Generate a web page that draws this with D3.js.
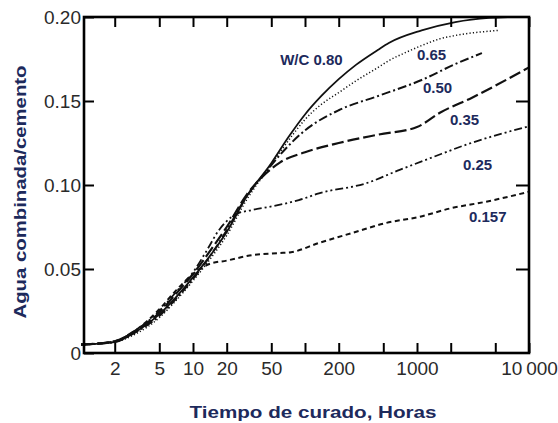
<!DOCTYPE html>
<html>
<head>
<meta charset="utf-8">
<script src="https://cdn.jsdelivr.net/npm/d3@7"></script>
<style>
  body { margin: 0; background: #fff; }
  svg { display: block; font-family: 'Liberation Sans', Arial, sans-serif; }
</style>
</head>
<body>
<div id="chart-area"></div>
<script>
// curing time (hours) and combined water / cement for each W/C ratio
let hours080 = [1, 2, 3, 5, 7, 10, 15, 20, 30, 50, 72, 100, 140, 200, 285, 450, 560, 1100, 2200, 4400, 6500];
let water080 = [0.005, 0.0065, 0.012, 0.023, 0.033, 0.045, 0.06, 0.072, 0.093, 0.113, 0.129, 0.142, 0.153, 0.163, 0.1715, 0.1805, 0.1845, 0.192, 0.197, 0.1995, 0.2];

let hours065 = [1, 2, 3, 5, 7, 10, 15, 20, 30, 50, 80, 100, 140, 200, 285, 450, 560, 800, 1100, 1600, 2200, 5300];
let water065 = [0.005, 0.0065, 0.011, 0.021, 0.031, 0.043, 0.058, 0.07, 0.091, 0.112, 0.131, 0.139, 0.148, 0.155, 0.162, 0.17, 0.174, 0.179, 0.183, 0.187, 0.189, 0.192];

let hours050 = [1, 2, 3, 5, 7, 10, 15, 20, 30, 45, 60, 100, 200, 450, 1100, 2200, 3800];
let water050 = [0.005, 0.0065, 0.012, 0.022, 0.032, 0.044, 0.06, 0.073, 0.093, 0.108, 0.118, 0.1325, 0.1445, 0.153, 0.1625, 0.172, 0.1785];

let hours035 = [1, 2, 3, 5, 7, 10, 15, 20, 30, 45, 60, 100, 200, 450, 1000, 1600, 3100, 10000];
let water035 = [0.005, 0.007, 0.013, 0.024, 0.035, 0.047, 0.063, 0.075, 0.094, 0.107, 0.1135, 0.1195, 0.125, 0.13, 0.1345, 0.143, 0.152, 0.17];

let hours025 = [1, 2, 3, 5, 7, 10, 13, 17, 24, 33, 48, 88, 133, 350, 700, 1400, 2750, 10000];
let water025 = [0.005, 0.007, 0.013, 0.025, 0.036, 0.048, 0.06, 0.073, 0.0825, 0.085, 0.087, 0.091, 0.095, 0.101, 0.109, 0.1167, 0.124, 0.135];

let hours0157 = [1, 2, 3, 5, 7, 10, 14, 20, 32, 58, 75, 133, 262, 530, 1040, 2050, 4100, 10000];
let water0157 = [0.005, 0.007, 0.013, 0.026, 0.037, 0.047, 0.053, 0.055, 0.058, 0.0595, 0.06, 0.0655, 0.0714, 0.0774, 0.081, 0.0863, 0.09, 0.096];

let seriesLabels = ['W/C 0.80', '0.65', '0.50', '0.35', '0.25', '0.157'];

// axis ticks
let xTicks = [2, 5, 10, 20, 50, 100, 200, 500, 1000, 2000, 5000, 10000];
let xTickLabels = { 2: '2', 5: '5', 10: '10', 20: '20', 50: '50', 200: '200', 1000: '1000', 10000: '10\u2009000' };
let yTicks = [0, 0.05, 0.1, 0.15, 0.2];

let width = 558;
let height = 423;
let frame = { left: 84, right: 529, top: 17, bottom: 353 };

let series = [
  { hours: hours080, water: water080, dash: null, sw: 1.8 },
  { hours: hours065, water: water065, dash: '1.2,2.2', sw: 1.5 },
  { hours: hours050, water: water050, dash: '9,3,2,3', sw: 2 },
  { hours: hours035, water: water035, dash: '12,4', sw: 2.2 },
  { hours: hours025, water: water025, dash: '8,3,2,3,2,3', sw: 1.8 },
  { hours: hours0157, water: water0157, dash: '5,3.5', sw: 2 },
];
//label anchors in data units (hours, water)
let labelAt = [[60, 0.1714], [1000, 0.1744], [1130, 0.1548], [1970, 0.1357], [2575, 0.1089], [2910, 0.078]];

let xScale = d3.scaleLog().domain([1, 10000]).range([81, frame.right]);
let yScale = d3.scaleLinear().domain([0, 0.2]).range([frame.bottom, frame.top]);

let chart = d3
  .select('#chart-area')
  .append('svg')
  .attr('width', width)
  .attr('height', height);

//curves
let line = d3
  .line()
  .x((d) => xScale(d[0]))
  .y((d) => yScale(d[1]))
  .curve(d3.curveMonotoneX);

chart
  .append('g')
  .attr('id', 'curves')
  .selectAll('path')
  .data(series)
  .enter()
  .append('path')
  .attr('d', (s) => line(s.hours.map((h, i) => [h, s.water[i]])))
  .attr('fill', 'none')
  .attr('stroke', '#111')
  .attr('stroke-width', (s) => s.sw)
  .attr('stroke-dasharray', (s) => s.dash);

//frame
chart
  .append('rect')
  .attr('x', frame.left)
  .attr('y', frame.top)
  .attr('width', frame.right - frame.left)
  .attr('height', frame.bottom - frame.top)
  .attr('fill', 'none')
  .attr('stroke', '#000')
  .attr('stroke-width', 2.6);

//x axis (bottom) with inward ticks
let xAxis = d3
  .axisBottom(xScale)
  .tickValues(xTicks)
  .tickSize(-10)
  .tickPadding(9)
  .tickFormat((d) => xTickLabels[d] || '');
chart
  .append('g')
  .attr('id', 'x-axis')
  .attr('transform', `translate(0, ${frame.bottom})`)
  .call(xAxis);

//top ticks
chart
  .append('g')
  .attr('transform', `translate(0, ${frame.top})`)
  .call(d3.axisTop(xScale).tickValues(xTicks).tickSize(-10).tickFormat(''));

//y axis
let yAxis = d3
  .axisLeft(yScale)
  .tickValues(yTicks)
  .tickSize(-10)
  .tickPadding(3)
  .tickFormat((d) => (d === 0 ? '0' : d.toFixed(2)));
chart
  .append('g')
  .attr('id', 'y-axis')
  .attr('transform', `translate(${frame.left}, 0)`)
  .call(yAxis);

//right ticks
chart
  .append('g')
  .attr('transform', `translate(${frame.right}, 0)`)
  .call(d3.axisRight(yScale).tickValues(yTicks.slice(1, 4)).tickSize(-13).tickFormat(''));

chart.selectAll('.domain').remove();
chart.selectAll('.tick line').attr('stroke', '#000').attr('stroke-width', 2);
chart
  .selectAll('.tick text')
  .attr('fill', '#2a2a2a')
  .style('font-size', '19px')
  .style('font-family', "'Liberation Sans', Arial, sans-serif");

//curve labels
chart
  .append('g')
  .attr('id', 'labels')
  .selectAll('text')
  .data(seriesLabels)
  .enter()
  .append('text')
  .attr('x', (d, i) => xScale(labelAt[i][0]))
  .attr('y', (d, i) => yScale(labelAt[i][1]))
  .text((d) => d)
  .attr('fill', '#1d2a5c')
  .style('font-size', '15px')
  .style('font-weight', 'bold');

//axis titles
chart
  .append('text')
  .attr('transform', `translate(26, ${(frame.top + frame.bottom) / 2 + 7}) rotate(-90)`)
  .attr('text-anchor', 'middle')
  .attr('textLength', 253)
  .attr('lengthAdjust', 'spacingAndGlyphs')
  .attr('fill', '#1d2a5c')
  .style('font-size', '16px')
  .style('font-weight', 'bold')
  .text('Agua combinada/cemento');

chart
  .append('text')
  .attr('x', 313)
  .attr('y', 418)
  .attr('text-anchor', 'middle')
  .attr('textLength', 247)
  .attr('lengthAdjust', 'spacingAndGlyphs')
  .attr('fill', '#1d2a5c')
  .style('font-size', '16px')
  .style('font-weight', 'bold')
  .text('Tiempo de curado, Horas');
</script>
</body>
</html>
